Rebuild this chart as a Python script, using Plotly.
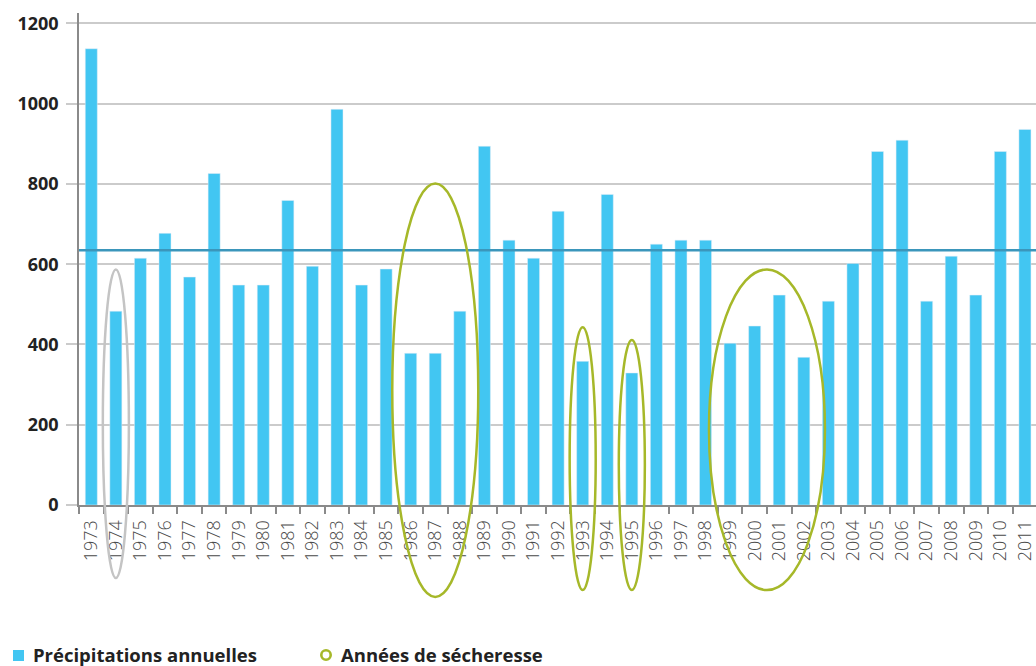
import plotly.graph_objects as go

years = [str(y) for y in range(1973, 2012)]
precip = [1137, 483, 615, 677, 568, 826, 548, 548, 759, 595, 986, 548, 588, 378, 378,
          483, 894, 660, 615, 732, 358, 774, 329, 650, 660, 660, 403, 446, 523, 368,
          508, 602, 881, 909, 508, 620, 523, 881, 936]
mean_precip = 635

# Drought groups: first year, last year, top value, bottom value, colour
drought_first = ["1974", "1986", "1993", "1995", "1999"]
drought_last = ["1974", "1988", "1993", "1995", "2002"]
drought_top = [587, 801, 443, 411, 587]
drought_bottom = [-182, -229, -212, -212, -212]
drought_color = ["#c4c4c4", "#a6b829", "#a6b829", "#a6b829", "#a6b829"]

series_names = ["Précipitations annuelles", "Années de sécheresse"]

BLUE = "#42c6f2"
OLIVE = "#a6b829"
Y_MIN, Y_MAX = 0, 1226
X_MAX = len(years) - 0.55

W, H = 1036, 666
ML, MR, MT, MB = 79, 0, 13, 161
PW, PH = W - ML - MR, H - MT - MB

def px_x(p):
    return (p - ML) / PW

def px_y(p):
    return (H - MB - p) / PH

fig = go.Figure()
fig.add_trace(go.Bar(x=years, y=precip, marker_color=BLUE, width=0.49,
                     name=series_names[0], showlegend=False))

# mean line
fig.add_shape(type="line", xref="paper", yref="y", x0=0, x1=1, y0=mean_precip, y1=mean_precip,
              line=dict(color="#3b96bb", width=2.5), layer="above")

def paper_y(v):
    return (v - Y_MIN) / (Y_MAX - Y_MIN)

for a, b, top, bot, col in zip(drought_first, drought_last, drought_top, drought_bottom, drought_color):
    i0 = years.index(a)
    i1 = years.index(b)
    cx = (i0 + i1) / 2
    half = (i1 - i0) / 2 + 0.53 + (0.11 * (i1 - i0) if i1 > i0 else 0)
    fig.add_shape(type="circle", xref="x", yref="paper",
                  x0=cx - half, x1=cx + half, y0=paper_y(bot), y1=paper_y(top),
                  line=dict(color=col, width=2.5), layer="above")

# legend (drawn manually to match the reference placement)
fig.add_shape(type="rect", xref="paper", yref="paper",
              x0=px_x(13), x1=px_x(24), y0=px_y(661), y1=px_y(650),
              fillcolor=BLUE, line=dict(width=0))
fig.add_shape(type="circle", xref="paper", yref="paper",
              x0=px_x(321.3), x1=px_x(330.7), y0=px_y(659.7), y1=px_y(650.3),
              line=dict(color=OLIVE, width=2.6))
for name, left in zip(series_names, [31, 339]):
    fig.add_annotation(xref="paper", yref="paper", x=px_x(left), y=px_y(654.5),
                       xanchor="left", yanchor="middle", showarrow=False, text=name,
                       font=dict(size=18.5, color="#222", weight="bold"))

fig.update_layout(
    width=W, height=H,
    margin=dict(l=ML, r=MR, t=MT, b=MB, autoexpand=False),
    paper_bgcolor="white", plot_bgcolor="white",
    bargap=0.5,
    font=dict(family="Open Sans, Lato, sans-serif", color="#222"),
    showlegend=False,
    xaxis=dict(type="category", range=[-0.5, X_MAX], showgrid=False, automargin=False,
               showline=True, linecolor="#8a8a8a", linewidth=2,
               ticks="outside", tickson="boundaries", ticklen=7, tickcolor="#8a8a8a", tickwidth=1.5,
               tickangle=-90, tickfont=dict(size=18, color="#4a4a4a", weight=300),
               ticklabelstandoff=6),
    yaxis=dict(range=[Y_MIN, Y_MAX], tickvals=[0, 200, 400, 600, 800, 1000, 1200],
               automargin=False,
               showgrid=True, gridcolor="#cbcbcb", gridwidth=1.5,
               zeroline=False, showline=True, linecolor="#8a8a8a", linewidth=1.5,
               ticks="outside", ticklen=11, tickcolor="#cbcbcb", tickwidth=1.5,
               tickfont=dict(size=18, color="#222", weight="bold"), ticklabelstandoff=4),
)

fig.write_html("out.html", config={"displayModeBar": False},
               post_script="document.body.style.margin='0';document.body.style.overflow='hidden';")
